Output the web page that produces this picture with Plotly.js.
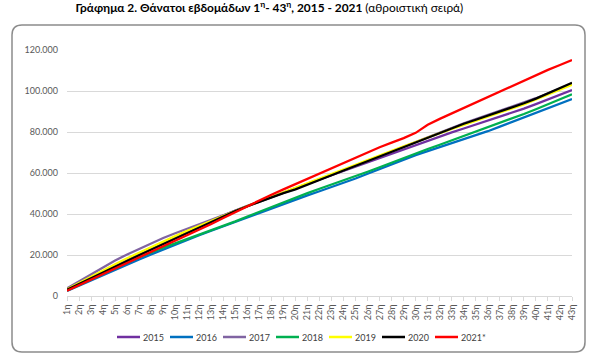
<!DOCTYPE html>
<html>
<head>
<meta charset="utf-8">
<script src="https://cdn.plot.ly/plotly-3.0.1.min.js"></script>
<style>html,body{margin:0;padding:0;background:#fff;}#chart{width:600px;height:361px;}</style>
</head>
<body>
<div id="chart"></div>
<script>
const weeks = ['1η','2η','3η','4η','5η','6η','7η','8η','9η','10η','11η','12η','13η','14η','15η','16η','17η','18η','19η','20η','21η','22η','23η','24η','25η','26η','27η','28η','29η','30η','31η','32η','33η','34η','35η','36η','37η','38η','39η','40η','41η','42η','43η'];

const y2015 = [3200,6200,9200,12100,15000,17900,20700,23500,26200,28900,31600,34200,36800,39300,41700,44000,46200,48400,50500,52600,54700,56800,58900,61000,63100,65300,67500,69600,71700,73800,75900,77900,79800,81700,83600,85500,87400,89200,91400,93600,95900,98200,100500];
const y2016 = [2500,5100,7700,10300,12800,15300,17800,20300,22700,25100,27400,29600,31800,34000,36200,38400,40500,42600,44700,47000,49100,51100,53100,55200,57300,59600,61900,64300,66600,68700,70700,72600,74500,76300,78300,80400,82600,84800,87000,89200,91500,93800,96100];
const y2017 = [3700,7200,10700,14100,17300,20300,23100,25800,28300,30600,32800,34900,37100,39300,41500,43700,45900,48000,50100,52200,54400,56600,58900,61200,63500,65900,68200,70600,72900,75300,77600,79900,82100,84200,86300,88300,90200,92200,94300,96500,98800,101100,103500];
const y2018 = [2700,5500,8300,11000,13700,16300,18900,21400,23600,25700,27800,29800,31900,34100,36400,38800,41100,43500,45800,48100,50200,52300,54300,56300,58400,60600,62800,65100,67400,69600,71700,73800,75900,78000,80100,82200,84300,86500,88800,91100,93500,95900,98400];
const y2019 = [3300,6400,9500,12500,15500,18400,21200,23900,26600,29200,31800,34300,36800,39200,41600,43900,46100,48300,50500,52700,54900,57100,59400,61700,64000,66300,68600,70800,73000,75100,77300,79400,81500,83500,85500,87400,89300,91200,93500,95900,98300,100600,103000];
const y2020 = [3000,5900,8800,11600,14400,17100,19900,22600,25400,28100,30900,33600,36300,39000,41500,43800,46000,48100,50200,52000,54200,56600,58900,61200,63500,65900,68200,70500,72800,75000,77300,79600,81900,84000,86000,88000,89900,91800,94000,96300,98800,101400,104000];
const y2021 = [2600,5300,8000,10700,13400,16100,18800,21500,24100,26700,29400,32200,35100,38100,41000,43900,46700,49400,52000,54600,57100,59700,62300,64900,67600,70200,72600,74800,77000,79600,83500,86400,89100,91800,94500,97200,99900,102600,105200,107800,110300,112700,115100];

const seriesNames = ['2015','2016','2017','2018','2019','2020','2021*'];
const seriesColors = ['#7030A0','#0070C0','#8064A2','#00B050','#FFFF00','#000000','#FF0000'];
const seriesValues = [y2015,y2016,y2017,y2018,y2019,y2020,y2021];

const traces = seriesValues.map((v,i)=>({
  type:'scatter', mode:'lines', x:weeks, y:v, name:seriesNames[i],
  line:{color:seriesColors[i], width:2.25}, hoverinfo:'skip', showlegend:false
}));

const fontFam = 'Lato, "Open Sans", sans-serif';
// plot area in pixels
const PL = 67, PW = 505, PB = 296, PH = 246;
const px2x = p => (p - PL) / PW;
const px2y = p => (PB - p) / PH;

const rx = 10/PW, ry = 10/PH;
const x0 = px2x(12), x1 = px2x(585), yb = px2y(352), yt = px2y(25);
const framePath = `M ${x0+rx},${yt} L ${x1-rx},${yt} Q ${x1},${yt} ${x1},${yt-ry} L ${x1},${yb+ry} Q ${x1},${yb} ${x1-rx},${yb} L ${x0+rx},${yb} Q ${x0},${yb} ${x0},${yb+ry} L ${x0},${yt-ry} Q ${x0},${yt} ${x0+rx},${yt} Z`;

const shapes = [{type:'path', xref:'paper', yref:'paper', path:framePath, line:{color:'#8c8c8c', width:1.5}, layer:'below'}];
const annotations = [];
// manual legend (Excel style: short line followed by label)
const legY = px2y(337);
seriesNames.forEach((n,i)=>{
  const lx = 117 + i*53;
  shapes.push({type:'line', xref:'paper', yref:'paper', x0:px2x(lx), x1:px2x(lx+23), y0:legY, y1:legY,
    line:{color:seriesColors[i], width:2.5}});
  annotations.push({xref:'paper', yref:'paper', x:px2x(lx+24), y:legY, xanchor:'left', yanchor:'middle',
    text:n, showarrow:false, font:{size:9, color:'#404040'}});
});

const layout = {
  width:600, height:361,
  margin:{l:PL, r:600-PL-PW, t:PB-PH, b:361-PB},
  paper_bgcolor:'#ffffff', plot_bgcolor:'#ffffff',
  separators:',.',
  font:{family:fontFam, size:9, color:'#595959'},
  title:{
    text:'<b>Γράφημα 2. Θάνατοι εβδομάδων 1<sup>η</sup>- 43<sup>η</sup>, 2015 - 2021</b> (αθροιστική σειρά)',
    font:{family:fontFam, size:11.9, color:'#000000'},
    x:0.449, xref:'container', xanchor:'center', y:0.978, yref:'container', yanchor:'middle'
  },
  xaxis:{
    type:'category', range:[0,42], tickangle:-90, showgrid:false, automargin:false,
    showline:true, linecolor:'#d9d9d9', linewidth:1,
    ticks:'outside', ticklen:4, tickcolor:'#d9d9d9',
    tickfont:{size:9, color:'#595959'}, fixedrange:true
  },
  yaxis:{
    range:[0,120000], dtick:20000, tickformat:',d', automargin:false,
    showgrid:true, gridcolor:'#d9d9d9', gridwidth:1,
    zeroline:false, showline:false, ticks:'', ticklabelstandoff:8,
    tickfont:{size:9, color:'#595959'}, fixedrange:true
  },
  showlegend:false,
  shapes:shapes,
  annotations:annotations
};

Plotly.newPlot('chart', traces, layout, {staticPlot:true, displayModeBar:false});
</script>
</body>
</html>
